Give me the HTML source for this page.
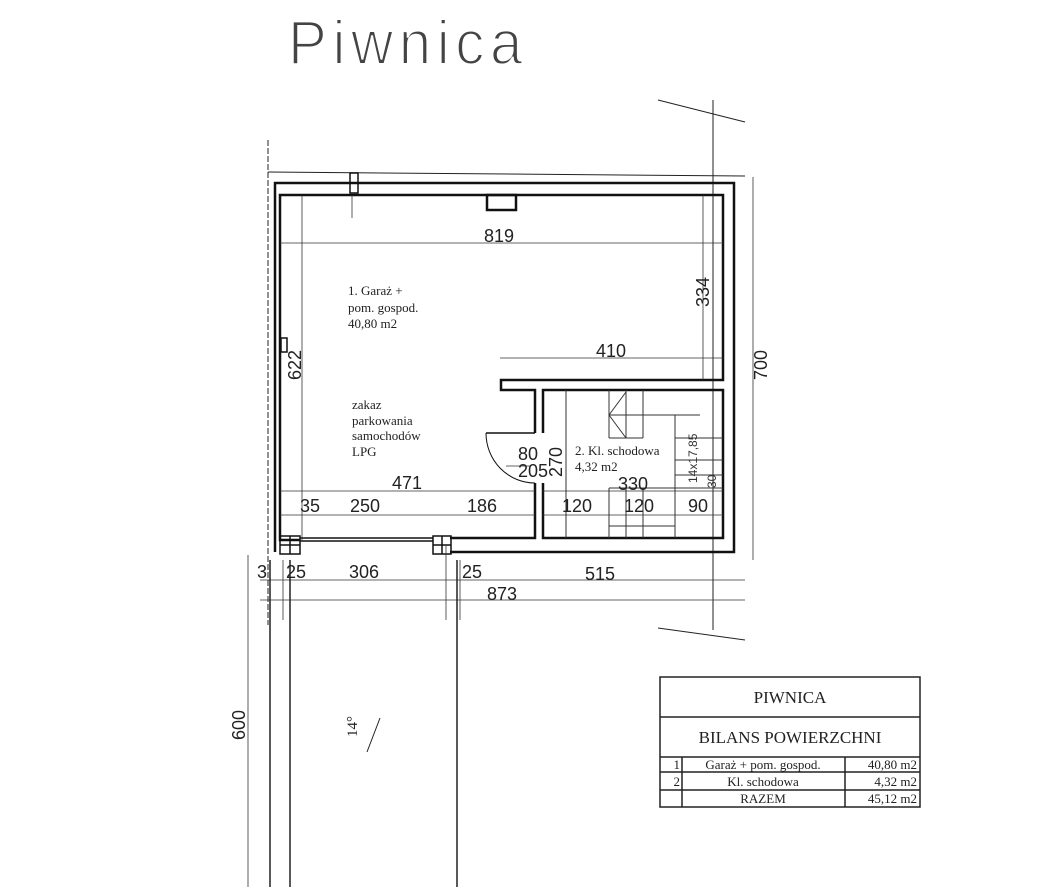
<!DOCTYPE html>
<html><head><style>
body{margin:0;background:#fff;width:1051px;height:892px;overflow:hidden}
svg{display:block}
.d{font-family:"Liberation Sans",sans-serif;font-size:18px;fill:#222}
.s{font-family:"Liberation Serif",serif;font-size:13px;fill:#222}
</style></head><body>
<svg width="1051" height="892" viewBox="0 0 1051 892" xmlns="http://www.w3.org/2000/svg">
<text x="288" y="64" font-family="Liberation Sans,sans-serif" font-size="62" font-weight="300" fill="#444" letter-spacing="6" textLength="240" lengthAdjust="spacingAndGlyphs" stroke="#fff" stroke-width="2">Piwnica</text>
<g stroke="#222" fill="none" stroke-width="1">
<line x1="658" y1="100" x2="745" y2="122"/>
<line x1="713" y1="100" x2="713" y2="630"/>
<line x1="658" y1="628" x2="745" y2="640"/>
<line x1="268" y1="140" x2="268" y2="625" stroke-dasharray="6 2"/>
<line x1="268" y1="172" x2="745" y2="176"/>
</g>
<g stroke="#111" stroke-width="2.5" fill="none">
<polyline points="275,552 275,183 734,183 734,552 450,552"/>
<polyline points="300,540 280,540 280,195 723,195 723,380 501,380 501,390 535,390 535,433"/>
<polyline points="535,483 535,538 450,538"/>
<polyline points="543,433 543,390 723,390 723,538 543,538 543,483"/>
<rect x="487" y="195" width="29" height="15"/>
<rect x="350" y="173" width="8" height="20" stroke-width="1.5"/>
</g>
<g stroke="#111" stroke-width="1.5" fill="none">
<rect x="280" y="536" width="20" height="18"/><line x1="290" y1="536" x2="290" y2="554"/><line x1="280" y1="545" x2="300" y2="545"/>
<rect x="433" y="536" width="18" height="18"/><line x1="442" y1="536" x2="442" y2="554"/><line x1="433" y1="545" x2="451" y2="545"/>
<line x1="300" y1="538" x2="433" y2="538"/><line x1="300" y1="541" x2="433" y2="541"/>
<line x1="486" y1="433" x2="535" y2="433"/>
<path d="M486,433 A49,50 0 0 0 535,483" stroke-width="1"/>
<rect x="281" y="338" width="6" height="14"/>
</g>
<g stroke="#333" stroke-width="1" fill="none">
<line x1="566" y1="390" x2="566" y2="538"/>
<line x1="609" y1="390" x2="609" y2="438"/><line x1="609" y1="488" x2="609" y2="538"/>
<line x1="626" y1="390" x2="626" y2="438"/><line x1="626" y1="488" x2="626" y2="538"/>
<line x1="643" y1="390" x2="643" y2="438"/><line x1="643" y1="488" x2="643" y2="538"/>
<line x1="675" y1="415" x2="675" y2="538"/>
<line x1="609" y1="415" x2="700" y2="415"/>
<line x1="609" y1="438" x2="643" y2="438"/>
<line x1="675" y1="438" x2="723" y2="438"/>
<line x1="675" y1="460" x2="723" y2="460"/>
<line x1="675" y1="475" x2="723" y2="475"/>
<line x1="609" y1="488" x2="723" y2="488"/>
<line x1="609" y1="526" x2="675" y2="526"/>
<line x1="626" y1="392" x2="609" y2="415"/><line x1="609" y1="415" x2="626" y2="438"/>
</g>
<g stroke="#333" stroke-width="0.8" fill="none">
<line x1="280" y1="243" x2="723" y2="243"/>
<line x1="703" y1="195" x2="703" y2="380"/>
<line x1="500" y1="358" x2="723" y2="358"/>
<line x1="302" y1="195" x2="302" y2="540"/>
<line x1="753" y1="177" x2="753" y2="560"/>
<line x1="280" y1="491" x2="535" y2="491"/>
<line x1="280" y1="515" x2="535" y2="515"/>
<line x1="543" y1="491" x2="723" y2="491"/>
<line x1="543" y1="515" x2="723" y2="515"/>
<line x1="260" y1="580" x2="745" y2="580"/>
<line x1="260" y1="600" x2="745" y2="600"/>
<line x1="446" y1="545" x2="446" y2="620"/>
<line x1="460" y1="560" x2="460" y2="620"/>
<line x1="283" y1="560" x2="283" y2="620"/>
<line x1="248" y1="555" x2="248" y2="887"/>
<line x1="506" y1="466" x2="530" y2="466"/>
<line x1="352" y1="195" x2="352" y2="218"/>
</g>
<g stroke="#222" stroke-width="1.5" fill="none">
<line x1="270" y1="560" x2="270" y2="887"/>
<line x1="290" y1="560" x2="290" y2="887"/>
<line x1="457" y1="560" x2="457" y2="887"/>
<line x1="380" y1="718" x2="367" y2="752" stroke-width="1"/>
</g>
<text class="d" x="484" y="242">819</text>
<text class="d" transform="translate(709,307) rotate(-90)">334</text>
<text class="d" x="596" y="357">410</text>
<text class="d" transform="translate(301,380) rotate(-90)">622</text>
<text class="d" transform="translate(767,380) rotate(-90)">700</text>
<text class="d" x="392" y="489">471</text>
<text class="d" x="300" y="512">35</text>
<text class="d" x="350" y="512">250</text>
<text class="d" x="467" y="512">186</text>
<text class="d" x="562" y="512">120</text>
<text class="d" x="624" y="512">120</text>
<text class="d" x="688" y="512">90</text>
<text class="d" x="618" y="490">330</text>
<text class="d" x="518" y="460">80</text>
<text class="d" x="518" y="477">205</text>
<text class="d" transform="translate(562,477) rotate(-90)">270</text>
<text class="d" x="257" y="578">3</text>
<text class="d" x="286" y="578">25</text>
<text class="d" x="349" y="578">306</text>
<text class="d" x="462" y="578">25</text>
<text class="d" x="585" y="580">515</text>
<text class="d" x="487" y="600">873</text>
<text class="d" transform="translate(245,740) rotate(-90)">600</text>
<text transform="translate(357,737) rotate(-90)" font-family="Liberation Serif,serif" font-size="15" fill="#222">14°</text>
<text transform="translate(697,483) rotate(-90)" font-family="Liberation Sans,sans-serif" font-size="12" fill="#333">14x17,85</text>
<text transform="translate(716,488) rotate(-90)" font-family="Liberation Sans,sans-serif" font-size="12" fill="#333">30</text>
<text class="s" x="348" y="295">1. Garaż +</text>
<text class="s" x="348" y="312">pom. gospod.</text>
<text class="s" x="348" y="328">40,80 m2</text>
<text class="s" x="352" y="409">zakaz</text>
<text class="s" x="352" y="425">parkowania</text>
<text class="s" x="352" y="440">samochodów</text>
<text class="s" x="352" y="456">LPG</text>
<text class="s" x="575" y="455">2. Kl. schodowa</text>
<text class="s" x="575" y="471">4,32 m2</text>
<g stroke="#222" stroke-width="1.5" fill="none">
<rect x="660" y="677" width="260" height="130"/>
<line x1="660" y1="717" x2="920" y2="717"/>
<line x1="660" y1="757" x2="920" y2="757"/>
<line x1="660" y1="772" x2="920" y2="772"/>
<line x1="660" y1="790" x2="920" y2="790"/>
<line x1="682" y1="757" x2="682" y2="807"/>
<line x1="845" y1="757" x2="845" y2="807"/>
</g>
<g font-family="Liberation Serif,serif" fill="#222">
<text x="790" y="703" font-size="17" text-anchor="middle">PIWNICA</text>
<text x="790" y="743" font-size="17" text-anchor="middle">BILANS POWIERZCHNI</text>
<text x="680" y="769" font-size="13" text-anchor="end">1</text>
<text x="680" y="786" font-size="13" text-anchor="end">2</text>
<text x="763" y="769" font-size="13" text-anchor="middle">Garaż + pom. gospod.</text>
<text x="763" y="786" font-size="13" text-anchor="middle">Kl. schodowa</text>
<text x="763" y="803" font-size="13" text-anchor="middle">RAZEM</text>
<text x="917" y="769" font-size="13" text-anchor="end">40,80 m2</text>
<text x="917" y="786" font-size="13" text-anchor="end">4,32 m2</text>
<text x="917" y="803" font-size="13" text-anchor="end">45,12 m2</text>
</g>
</svg>
</body></html>
